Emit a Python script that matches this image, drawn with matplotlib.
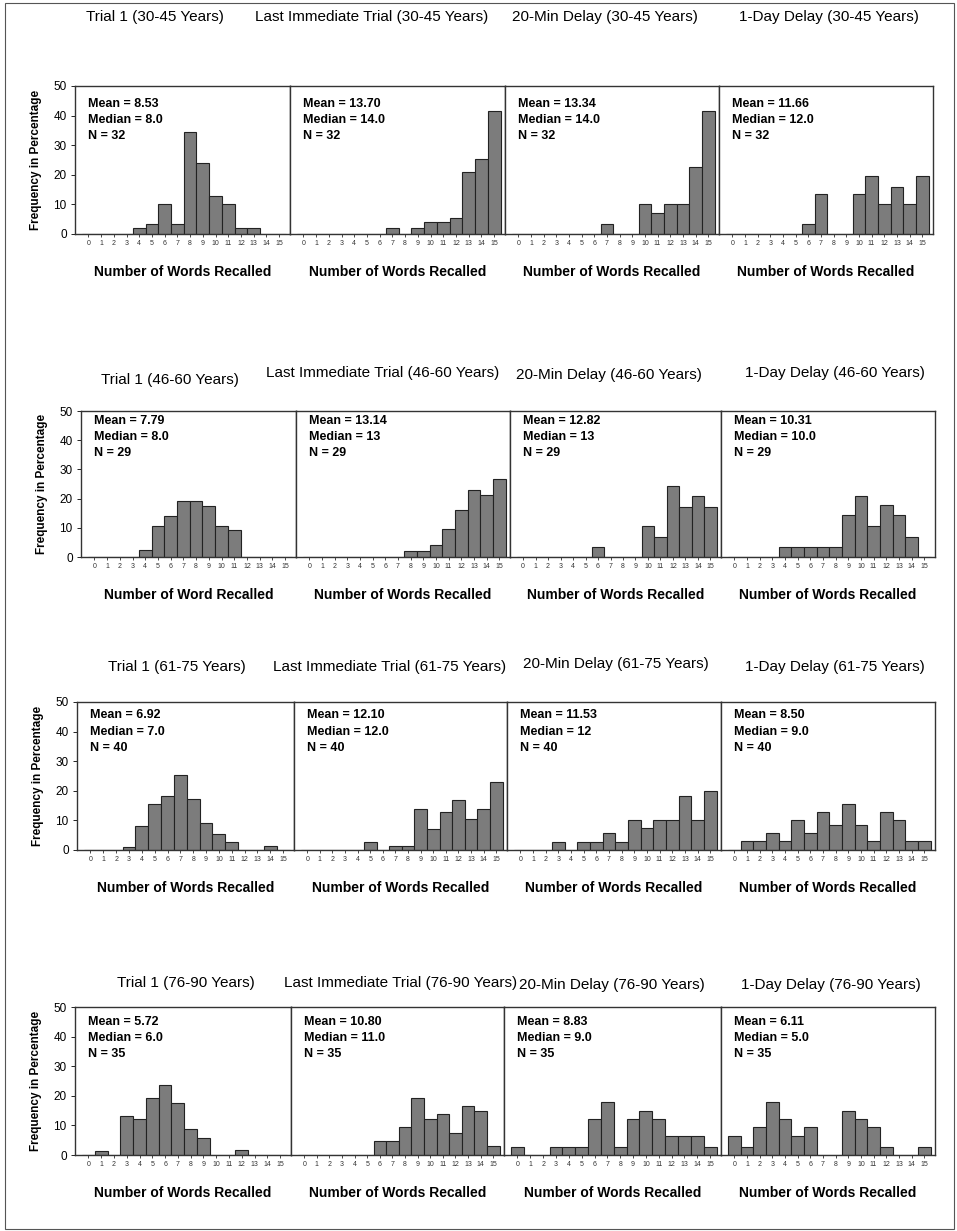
import matplotlib
matplotlib.use("Agg")
import matplotlib.pyplot as plt
from matplotlib.patches import Rectangle

plt.rcParams['font.family'] = ['Liberation Sans', 'DejaVu Sans']

W, H = 957, 1231

words = list(range(16))
tick_labels = [str(w) for w in words]

# percentages per number of words recalled (0..15)
r1_trial1 = [0, 0, 0, 0, 2, 3.5, 10, 3.5, 34.5, 24, 13, 10, 2, 2, 0, 0]
r1_last = [0, 0, 0, 0, 0, 0, 0, 2, 0, 2, 4, 4, 5.5, 21, 25.5, 41.5]
r1_20min = [0, 0, 0, 0, 0, 0, 0, 3.5, 0, 0, 10, 7, 10, 10, 22.5, 41.5]
r1_1day = [0, 0, 0, 0, 0, 0, 3.5, 13.5, 0, 0, 13.5, 19.5, 10, 16, 10, 19.5]

r2_trial1 = [0, 0, 0, 0, 2.3, 10.5, 14, 19.2, 19.2, 17.5, 10.7, 9.2, 0, 0, 0, 0]
r2_last = [0, 0, 0, 0, 0, 0, 0, 0, 2.2, 2.2, 4, 9.5, 16, 23, 21.3, 26.7]
r2_20min = [0, 0, 0, 0, 0, 0, 3.3, 0, 0, 0, 10.7, 7, 24.3, 17, 21, 17]
r2_1day = [0, 0, 0, 0, 3.3, 3.3, 3.3, 3.3, 3.3, 14.3, 21, 10.7, 17.8, 14.3, 7, 0]

r3_trial1 = [0, 0, 0, 1, 8.2, 15.4, 18.1, 25.3, 17.1, 9.2, 5.5, 2.8, 0, 0, 1.5, 0]
r3_last = [0, 0, 0, 0, 0, 2.6, 0, 1.2, 1.2, 14, 7, 13, 17, 10.5, 14, 23]
r3_20min = [0, 0, 0, 2.8, 0, 2.8, 2.8, 5.6, 2.8, 10.3, 7.6, 10.3, 10.3, 18.2, 10.3, 20.1]
r3_1day = [0, 3, 3, 5.8, 3, 10.3, 5.8, 12.8, 8.4, 15.6, 8.4, 3, 12.8, 10.3, 3, 3]

r4_trial1 = [0, 1.5, 0, 13.1, 12.2, 19.1, 23.5, 17.6, 8.8, 5.9, 0, 0, 1.7, 0, 0, 0]
r4_last = [0, 0, 0, 0, 0, 0, 4.8, 4.8, 9.4, 19.3, 12.2, 13.9, 7.6, 16.7, 14.8, 3.1]
r4_20min = [2.8, 0, 0, 2.8, 2.8, 2.8, 12.2, 17.8, 2.8, 12.2, 15, 12.2, 6.5, 6.5, 6.5, 2.8]
r4_1day = [6.5, 2.8, 9.3, 17.8, 12.2, 6.5, 9.3, 0, 0, 15, 12.2, 9.3, 2.8, 0, 0, 2.8]

age_groups = ["30-45", "46-60", "61-75", "76-90"]
conditions = ["Trial 1", "Last Immediate Trial", "20-Min Delay", "1-Day Delay"]

values = [
    [r1_trial1, r1_last, r1_20min, r1_1day],
    [r2_trial1, r2_last, r2_20min, r2_1day],
    [r3_trial1, r3_last, r3_20min, r3_1day],
    [r4_trial1, r4_last, r4_20min, r4_1day],
]

means = [["8.53", "13.70", "13.34", "11.66"],
         ["7.79", "13.14", "12.82", "10.31"],
         ["6.92", "12.10", "11.53", "8.50"],
         ["5.72", "10.80", "8.83", "6.11"]]
medians = [["8.0", "14.0", "14.0", "12.0"],
           ["8.0", "13", "13", "10.0"],
           ["7.0", "12.0", "12", "9.0"],
           ["6.0", "11.0", "9.0", "5.0"]]
n_sizes = [32, 29, 40, 35]

xlabels = [["Number of Words Recalled"] * 4,
           ["Number of Word Recalled"] + ["Number of Words Recalled"] * 3,
           ["Number of Words Recalled"] * 4,
           ["Number of Words Recalled"] * 4]

# layout in pixels
row_edges = [[75, 290, 505, 719, 933],
             [81, 296, 510, 721, 935],
             [77, 294, 507, 721, 935],
             [75, 291, 504, 721, 935]]
row_top_bottom = [(86, 234), (411, 557), (702, 850), (1007, 1155)]
title_pos = [[(155, 17), (372, 17), (605, 17), (829, 17)],
             [(170, 380), (383, 373), (609, 375), (835, 373)],
             [(177, 667), (390, 667), (616, 664), (835, 667)],
             [(186, 983), (401, 983), (612, 985), (831, 985)]]
ann_top = [0.88, 0.93, 0.91, 0.90]

fig = plt.figure(figsize=(W / 100, H / 100), dpi=100)
fig.patches.append(Rectangle((5 / W, 1 - 1229 / H), 949 / W, 1226 / H,
                             transform=fig.transFigure, fill=False,
                             edgecolor='#555555', linewidth=0.8))

for r in range(4):
    top, bottom = row_top_bottom[r]
    edges = row_edges[r]
    for c in range(4):
        left, right = edges[c], edges[c + 1]
        ax = fig.add_axes([left / W, 1 - bottom / H, (right - left) / W, (bottom - top) / H])
        ax.bar(words, values[r][c], width=1.0, color='#7c7c7c',
               edgecolor='#222222', linewidth=0.8)
        ax.set_xlim(-1.05, 15.85)
        ax.set_ylim(0, 50)
        ax.set_xticks(words)
        ax.set_xticklabels(tick_labels, fontsize=5, color='#333333')
        ax.tick_params(axis='x', length=2, width=0.5, pad=2)
        ax.set_yticks([0, 10, 20, 30, 40, 50])
        if c == 0:
            ax.tick_params(axis='y', length=3, width=0.6, labelsize=8.5, pad=3)
            ax.set_ylabel("Frequency in Percentage", fontsize=8.5,
                          fontweight='bold', labelpad=8)
        else:
            ax.tick_params(axis='y', length=0, labelleft=False)
        for s in ax.spines.values():
            s.set_linewidth(1.0)
            s.set_color('#333333')
        ax.set_xlabel(xlabels[r][c], fontsize=10, fontweight='bold', labelpad=13)
        y0 = ann_top[r]
        ax.text(0.06, y0, "Mean = " + means[r][c], transform=ax.transAxes,
                fontsize=9, fontweight='bold', va='center')
        ax.text(0.06, y0 - 0.11, "Median = " + medians[r][c], transform=ax.transAxes,
                fontsize=9, fontweight='bold', va='center')
        ax.text(0.06, y0 - 0.22, "N = " + str(n_sizes[r]), transform=ax.transAxes,
                fontsize=9, fontweight='bold', va='center')
        tx, ty = title_pos[r][c]
        fig.text(tx / W, 1 - ty / H, f"{conditions[c]} ({age_groups[r]} Years)",
                 ha='center', va='center', fontsize=11)

fig.savefig("out.png", dpi=100)
